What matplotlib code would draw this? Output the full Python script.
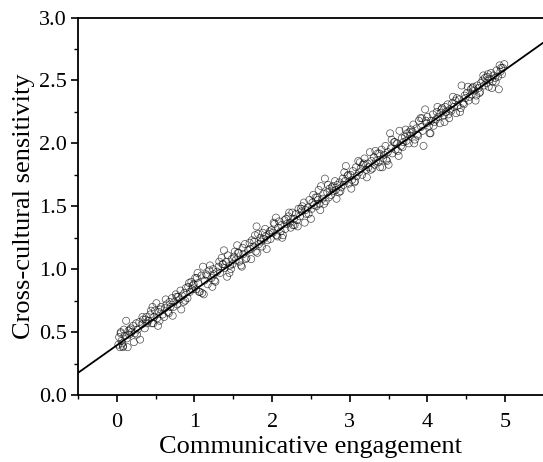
import matplotlib
matplotlib.use("Agg")
import matplotlib.pyplot as plt
from matplotlib import ticker
import numpy as np

plt.rcParams["font.family"] = ["Liberation Serif", "DejaVu Serif"]

# communicative engagement (x) vs cross-cultural sensitivity (y)
engagement = [
    0.02, 0.03, 0.04, 0.05, 0.06, 0.07, 0.08, 0.09, 0.10, 0.12,
    0.13, 0.15, 0.16, 0.18, 0.19,
    0.21, 0.23, 0.25, 0.27, 0.29, 0.30,
    0.32, 0.34, 0.36, 0.38, 0.39,
    0.41, 0.43, 0.45, 0.46, 0.48, 0.49,
    0.51, 0.52, 0.54, 0.55, 0.57, 0.59,
    0.61, 0.62, 0.64, 0.66, 0.68, 0.69,
    0.71, 0.73, 0.74, 0.76, 0.78, 0.79,
    0.81, 0.82, 0.84, 0.86, 0.87, 0.89,
    0.91, 0.92, 0.94, 0.96, 0.97, 0.99,
    1.01, 1.02, 1.04, 1.05, 1.07, 1.09,
    1.10, 1.11, 1.13, 1.15, 1.17, 1.19, 1.20,
    1.22, 1.24, 1.25, 1.27, 1.29,
    1.31, 1.33, 1.35, 1.36, 1.38, 1.39,
    1.41, 1.43, 1.45, 1.46, 1.48, 1.49,
    1.51, 1.53, 1.55, 1.56, 1.58, 1.60,
    1.62, 1.63, 1.65, 1.67, 1.69,
    1.71, 1.72, 1.74, 1.76, 1.78, 1.79, 1.80,
    1.81, 1.83, 1.85, 1.86, 1.88, 1.89,
    1.91, 1.92, 1.94, 1.96, 1.98, 1.99,
    2.01, 2.03, 2.05, 2.06, 2.08, 2.09,
    2.11, 2.12, 2.14, 2.16, 2.17, 2.19,
    2.21, 2.23, 2.24, 2.26, 2.28, 2.29,
    2.31, 2.32, 2.34, 2.36, 2.38, 2.39,
    2.41, 2.43, 2.44, 2.46, 2.48, 2.50,
    2.51, 2.52, 2.54, 2.56, 2.57, 2.59,
    2.60, 2.61, 2.63, 2.65, 2.66, 2.68, 2.69,
    2.71, 2.73, 2.74, 2.76, 2.78, 2.79,
    2.81, 2.82, 2.84, 2.86, 2.87, 2.89,
    2.91, 2.92, 2.94, 2.95, 2.97, 2.99,
    3.01, 3.03, 3.04, 3.06, 3.08, 3.09,
    3.11, 3.12, 3.14, 3.16, 3.17, 3.19,
    3.21, 3.23, 3.24, 3.26, 3.28, 3.29,
    3.31, 3.32, 3.34, 3.36, 3.37, 3.39,
    3.41, 3.43, 3.44, 3.46, 3.48, 3.49,
    3.50, 3.52, 3.53, 3.55, 3.57, 3.59,
    3.61, 3.62, 3.64, 3.66, 3.67, 3.69,
    3.71, 3.73, 3.74, 3.76, 3.78, 3.79,
    3.81, 3.82, 3.84, 3.86, 3.87, 3.89,
    3.91, 3.92, 3.94, 3.95, 3.97, 3.99,
    4.00, 4.02, 4.04, 4.05, 4.07, 4.09,
    4.11, 4.12, 4.14, 4.16, 4.17, 4.19,
    4.21, 4.23, 4.24, 4.26, 4.28, 4.29,
    4.31, 4.32, 4.34, 4.36, 4.37, 4.39,
    4.41, 4.43, 4.44, 4.46, 4.48, 4.49,
    4.51, 4.53, 4.54, 4.56, 4.57, 4.59,
    4.61, 4.63, 4.64, 4.66, 4.68, 4.69,
    4.71, 4.73, 4.74, 4.76, 4.78, 4.79,
    4.81, 4.82, 4.84, 4.85, 4.87, 4.89,
    4.91, 4.92, 4.94, 4.96, 4.97, 4.99,
    # outer edge of the band
    0.05, 0.14, 0.22, 0.33, 0.44, 0.53, 0.63, 0.72, 0.83, 0.93,
    1.03, 1.12, 1.23, 1.32, 1.42, 1.52, 1.61, 1.73, 1.82, 1.93,
    2.02, 2.13, 2.22, 2.33, 2.42, 2.53, 2.62, 2.72, 2.83, 2.93,
    3.02, 3.13, 3.22, 3.33, 3.42, 3.54, 3.63, 3.72, 3.83, 3.93,
    4.03, 4.13, 4.22, 4.33, 4.42, 4.52, 4.62, 4.72, 4.83, 4.93,
    # inner band
    0.08, 0.17, 0.26, 0.37, 0.47, 0.56, 0.67, 0.77, 0.88, 0.98,
    1.06, 1.16, 1.26, 1.37, 1.47, 1.57, 1.66, 1.77, 1.87, 1.97,
    2.07, 2.18, 2.27, 2.37, 2.47, 2.58, 2.67, 2.77, 2.88, 2.98,
    3.07, 3.18, 3.27, 3.38, 3.47, 3.58, 3.68, 3.77, 3.88, 3.98,
    4.08, 4.18, 4.27, 4.38, 4.47, 4.58, 4.67, 4.77, 4.88, 4.95,
]

sensitivity = [
    0.40, 0.46, 0.38, 0.49, 0.43, 0.41, 0.38, 0.52, 0.47, 0.59,
    0.45, 0.51, 0.48, 0.53, 0.50,
    0.55, 0.49, 0.57, 0.52, 0.58, 0.44,
    0.56, 0.60, 0.53, 0.62, 0.57,
    0.59, 0.64, 0.57, 0.70, 0.62, 0.67,
    0.73, 0.61, 0.66, 0.59, 0.70, 0.64,
    0.62, 0.69, 0.72, 0.66, 0.74, 0.70,
    0.77, 0.70, 0.74, 0.80, 0.72, 0.78,
    0.76, 0.83, 0.79, 0.74, 0.81, 0.85,
    0.77, 0.86, 0.82, 0.90, 0.84, 0.88,
    0.93, 0.84, 0.97, 0.89, 0.82, 0.95,
    0.81, 1.02, 0.91, 0.96, 0.88, 0.99, 1.03,
    0.93, 1.00, 0.96, 0.90, 0.98,
    1.02, 0.97, 1.09, 1.04, 1.15, 1.01,
    1.06, 1.11, 0.97, 1.03, 1.08, 1.04,
    1.10, 1.07, 1.19, 1.13, 1.06, 1.03,
    1.17, 1.12, 1.20, 1.09, 1.15,
    1.21, 1.16, 1.23, 1.18, 1.27, 1.14, 1.34,
    1.13, 1.20, 1.25, 1.22, 1.29, 1.24,
    1.32, 1.26, 1.23, 1.28, 1.24, 1.31,
    1.29, 1.36, 1.41, 1.27, 1.33, 1.38,
    1.30, 1.35, 1.27, 1.39, 1.32, 1.36,
    1.42, 1.37, 1.33, 1.45, 1.40, 1.35,
    1.44, 1.39, 1.48, 1.42, 1.46, 1.50,
    1.53, 1.47, 1.44, 1.49, 1.55, 1.40,
    1.48, 1.53, 1.51, 1.57, 1.50, 1.55,
    1.63, 1.52, 1.66, 1.56, 1.60, 1.72, 1.54,
    1.61, 1.57, 1.64, 1.59, 1.66, 1.62,
    1.70, 1.63, 1.67, 1.61, 1.69, 1.65,
    1.72, 1.67, 1.70, 1.82, 1.74, 1.68,
    1.75, 1.71, 1.78, 1.69, 1.81, 1.74,
    1.86, 1.77, 1.80, 1.75, 1.83, 1.88,
    1.79, 1.84, 1.81, 1.93, 1.86, 1.80,
    1.89, 1.83, 1.86, 1.92, 1.85, 1.81,
    1.95, 1.88, 1.91, 1.98, 1.86, 1.93,
    1.83, 2.08, 1.96, 1.92, 2.01, 1.95,
    2.00, 1.94, 2.10, 1.98, 2.04, 2.01,
    2.05, 2.02, 2.08, 2.00, 2.06, 2.11,
    2.09, 2.15, 2.03, 2.12, 2.07, 2.18,
    2.20, 2.13, 2.10, 1.98, 2.27, 2.16,
    2.21, 2.14, 2.08, 2.18, 2.23, 2.17,
    2.19, 2.25, 2.21, 2.16, 2.24, 2.28,
    2.22, 2.29, 2.25, 2.31, 2.20, 2.27,
    2.26, 2.32, 2.29, 2.34, 2.24, 2.30,
    2.35, 2.28, 2.46, 2.32, 2.38, 2.36,
    2.40, 2.34, 2.37, 2.43, 2.39, 2.45,
    2.42, 2.38, 2.46, 2.44, 2.41, 2.48,
    2.50, 2.46, 2.52, 2.48, 2.55, 2.45,
    2.51, 2.56, 2.49, 2.54, 2.52, 2.58,
    2.53, 2.43, 2.57, 2.55, 2.60, 2.63,
    # outer edge of the band
    0.50, 0.38, 0.42, 0.62, 0.67, 0.55, 0.76, 0.63, 0.68, 0.89,
    0.93, 0.80, 0.86, 1.06, 0.94, 1.14, 1.02, 1.08, 1.28, 1.16,
    1.37, 1.25, 1.45, 1.34, 1.37, 1.59, 1.47, 1.67, 1.56, 1.77,
    1.64, 1.85, 1.73, 1.94, 1.81, 2.03, 1.90, 2.11, 2.00, 2.20,
    2.08, 2.29, 2.17, 2.37, 2.25, 2.45, 2.34, 2.54, 2.44, 2.62,
    # inner band
    0.39, 0.52, 0.48, 0.60, 0.57, 0.68, 0.65, 0.78, 0.75, 0.87,
    0.82, 0.95, 0.91, 1.04, 1.00, 1.13, 1.08, 1.22, 1.18, 1.30,
    1.26, 1.40, 1.35, 1.48, 1.44, 1.57, 1.52, 1.65, 1.62, 1.75,
    1.70, 1.84, 1.79, 1.92, 1.87, 2.01, 1.97, 2.09, 2.06, 2.18,
    2.14, 2.27, 2.23, 2.36, 2.31, 2.44, 2.40, 2.53, 2.49, 2.60,
]

# linear fit drawn across the whole x range
fit_slope = 0.438
fit_intercept = 0.395

fig = plt.figure(figsize=(5.43, 4.62), dpi=100)
ax = fig.add_axes([0.1436, 0.145, 0.858, 0.817])

ax.scatter(engagement, sensitivity, s=26, facecolors="none",
           edgecolors="black", linewidths=0.5, alpha=0.7, zorder=2)

xs = np.array([-0.5, 5.5])
ax.plot(xs, fit_intercept + fit_slope * xs, color="black", lw=1.3, zorder=3)

ax.set_xlim(-0.5, 5.5)
ax.set_ylim(0, 3.0)
ax.xaxis.set_major_locator(ticker.MultipleLocator(1))
ax.xaxis.set_minor_locator(ticker.MultipleLocator(0.5))
ax.yaxis.set_major_locator(ticker.MultipleLocator(0.5))
ax.yaxis.set_minor_locator(ticker.MultipleLocator(0.25))
ax.yaxis.set_major_formatter(ticker.FormatStrFormatter("%.1f"))

for side in ["left", "bottom", "top", "right"]:
    ax.spines[side].set_linewidth(1.3)
ax.tick_params(which="major", direction="out", length=5, width=1.2, labelsize=16)
ax.tick_params(axis="x", which="major", pad=8)
ax.tick_params(axis="y", which="major", pad=3)
ax.tick_params(which="minor", direction="out", length=3, width=1.0)

ax.set_xlabel("Communicative engagement", fontsize=19, labelpad=3)
ax.set_ylabel("Cross-cultural sensitivity", fontsize=19, labelpad=3)

fig.savefig("out.png", dpi=100)
